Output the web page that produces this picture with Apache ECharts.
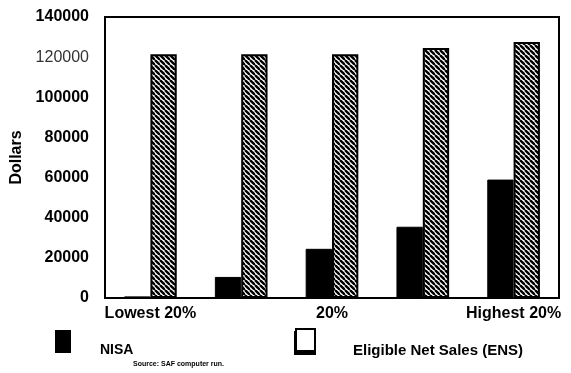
<!DOCTYPE html>
<html>
<head>
<meta charset="utf-8">
<script src="https://cdn.jsdelivr.net/npm/echarts@6/dist/echarts.min.js"></script>
<style>
  html, body { margin: 0; padding: 0; background: #fff; }
  #chart { width: 571px; height: 373px; }
</style>
</head>
<body>
<div id="chart"></div>
<script>
// Income quintiles along the x axis
const categories = ['Lowest 20%', '20%', '20%', '20%', 'Highest 20%'];
// NISA dollars per quintile
const nisaValues = [800, 10500, 24500, 35500, 59000];
// Eligible Net Sales (ENS) dollars per quintile
const ensValues = [121500, 121500, 121500, 124500, 127500];
// Y axis ticks
const yMax = 140000;
const yStep = 20000;

// Diagonal hatch fill for the ENS bars
function hatch() {
  const s = 5;
  const c = document.createElement('canvas');
  c.width = s; c.height = s;
  const g = c.getContext('2d');
  g.fillStyle = '#fff';
  g.fillRect(0, 0, s, s);
  g.strokeStyle = '#000';
  g.lineWidth = 2.4;
  for (const k of [-s, 0, s]) {
    g.beginPath();
    g.moveTo(k, 0);
    g.lineTo(k + s, s);
    g.stroke();
  }
  return c;
}

const font = "'Liberation Sans', Arial, sans-serif";
const chart = echarts.init(document.getElementById('chart'));

chart.setOption({
  animation: false,
  backgroundColor: '#fff',
  grid: {
    left: 105, right: 12, top: 17, bottom: 75,
    show: true, borderColor: '#000', borderWidth: 2, backgroundColor: 'transparent'
  },
  xAxis: {
    type: 'category',
    data: categories,
    axisLine: { lineStyle: { color: '#000', width: 2 } },
    axisTick: { show: false },
    axisLabel: {
      interval: 1,
      color: '#000', fontFamily: font, fontWeight: 'bold', fontSize: 16, margin: 8
    }
  },
  yAxis: {
    type: 'value',
    min: 0, max: yMax, interval: yStep,
    name: 'Dollars',
    nameLocation: 'middle',
    nameGap: 78,
    nameTextStyle: { color: '#000', fontFamily: font, fontWeight: 'bold', fontSize: 16 },
    axisLine: { show: false },
    axisTick: { show: false },
    splitLine: { show: false },
    axisLabel: {
      color: '#000', fontFamily: font, fontSize: 16, margin: 16,
      formatter: v => v === 120000 ? '{n|' + v + '}' : '{b|' + v + '}',
      rich: {
        b: { fontFamily: font, fontWeight: 'bold', fontSize: 16, color: '#000' },
        n: { fontFamily: font, fontWeight: 'normal', fontSize: 16, color: '#333' }
      }
    }
  },
  series: [
    {
      name: 'NISA',
      type: 'bar',
      data: nisaValues,
      barGap: '0%',
      barCategoryGap: '42%',
      itemStyle: { color: '#000', borderColor: '#000', borderWidth: 1 }
    },
    {
      name: 'Eligible Net Sales (ENS)',
      type: 'bar',
      data: ensValues,
      itemStyle: {
        color: { image: hatch(), repeat: 'repeat' },
        borderColor: '#000', borderWidth: 2
      }
    }
  ],
  graphic: [
    // NISA key
    { type: 'rect', shape: { x: 55, y: 330, width: 16, height: 23 }, style: { fill: '#000' } },
    { type: 'text', x: 100, y: 343, style: { text: 'NISA', fill: '#000', font: "bold 14px 'Liberation Sans Narrow', 'Liberation Sans', Arial" } },
    { type: 'text', x: 133, y: 361, style: { text: 'Source: SAF computer run.', fill: '#000', font: "bold 7px 'Liberation Sans', Arial" } },
    // ENS key: hollow box with a drop shadow
    { type: 'rect', shape: { x: 294, y: 331, width: 22, height: 24 }, style: { fill: '#000' } },
    { type: 'rect', shape: { x: 296, y: 329, width: 19, height: 22 }, style: { fill: '#fff', stroke: '#000', lineWidth: 2 } },
    { type: 'text', x: 353, y: 343, style: { text: 'Eligible Net Sales (ENS)', fill: '#000', font: "bold 15px 'Liberation Sans Narrow', 'Liberation Sans', Arial" } }
  ]
});
</script>
</body>
</html>
